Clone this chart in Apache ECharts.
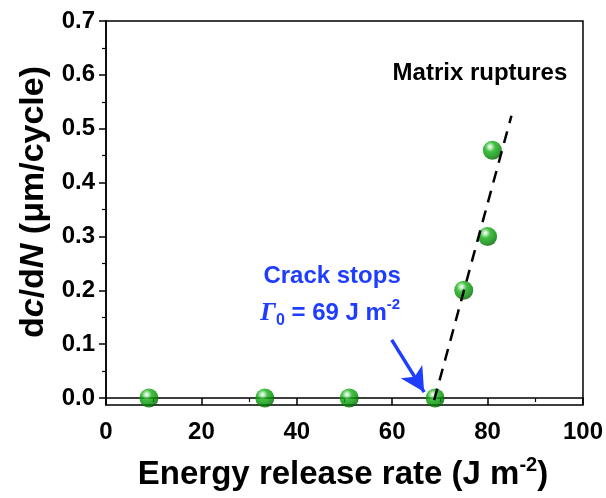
<!DOCTYPE html>
<html><head><meta charset="utf-8">
<script src="https://cdn.jsdelivr.net/npm/echarts@6/dist/echarts.min.js"></script>
<style>html,body{margin:0;padding:0;background:#fff}#c{width:606px;height:498px}</style>
</head><body><div id="c"></div>
<script>
// ---- data ----
const energy = [9, 33.3, 51, 69, 75, 80, 81];          // J m^-2
const rate   = [0, 0, 0, 0, 0.2, 0.3, 0.46];           // µm/cycle
const fitX   = [68.8, 85.0];                           // dashed trend line ends
const fitY   = [-0.004, 0.524];
const yMajor = [0, 0.1, 0.2, 0.3, 0.4, 0.5, 0.6, 0.7];
const yMinor = [0.05, 0.15, 0.25, 0.35, 0.45, 0.55, 0.65];
const arrowFrom = [59.9, 0.108];
const arrowTo   = [66.7, 0.011];
const labelMatrix = [78.4, 0.603];
const labelCrack  = [47.4, 0.225];
const labelGamma  = [47.0, 0.158];

const FONT = 'Liberation Sans, Arial, sans-serif';
const BLUE = '#1f3dff';
const chart = echarts.init(document.getElementById('c'));

const sphere = {
  type: 'radial', x: 0.38, y: 0.32, r: 0.75,
  colorStops: [
    {offset: 0, color: '#ffffff'},
    {offset: 0.12, color: '#b9ecb9'},
    {offset: 0.35, color: '#15b015'},
    {offset: 0.7, color: '#008c00'},
    {offset: 1, color: '#005200'}
  ]
};

chart.setOption({
  animation: false,
  grid: {left: 106, right: 22, top: 21, bottom: 93, show: true, borderColor: '#000', borderWidth: 1.5, backgroundColor: 'transparent'},
  xAxis: {
    type: 'value', min: 0, max: 100, interval: 20,
    axisLine: {show: true, lineStyle: {color: '#000', width: 1.5}},
    axisTick: {show: true, inside: false, length: 7, lineStyle: {color: '#000', width: 1.5}},
    minorTick: {show: true, splitNumber: 2, length: 4, lineStyle: {color: '#000', width: 1.2}},
    splitLine: {show: false},
    axisLabel: {fontFamily: FONT, fontSize: 24, fontWeight: 'bold', color: '#000', margin: 15}
  },
  yAxis: [{
    type: 'value', min: -0.013, max: 0.7,
    axisLine: {show: true, lineStyle: {color: '#000', width: 1.5}},
    axisTick: {show: true, inside: false, length: 7, customValues: yMajor, lineStyle: {color: '#000', width: 1.5}},
    splitLine: {show: false},
    axisLabel: {fontFamily: FONT, fontSize: 24, fontWeight: 'bold', color: '#000', margin: 11,
      customValues: yMajor, formatter: v => v.toFixed(1)}
  }, {
    type: 'value', min: -0.013, max: 0.7, position: 'left',
    axisLine: {show: false},
    axisTick: {show: true, inside: false, length: 4, customValues: yMinor, lineStyle: {color: '#000', width: 1.2}},
    splitLine: {show: false},
    axisLabel: {show: false}
  }],
  series: [{
    type: 'scatter', yAxisIndex: 0, z: 2,
    data: energy.map((x, i) => [x, rate[i]]),
    symbol: 'circle', symbolSize: 19,
    itemStyle: {color: sphere}
  }, {
    type: 'line', yAxisIndex: 0, z: 5,
    data: fitX.map((x, i) => [x, fitY[i]]),
    symbol: 'none',
    lineStyle: {color: '#000', width: 2.5, type: [12, 8.5]}
  }, {
    type: 'line', yAxisIndex: 0, z: 6, data: [], symbol: 'none',
    markLine: {
      silent: true, animation: false,
      symbol: ['none', 'arrow'], symbolSize: [19, 24],
      label: {show: false},
      lineStyle: {color: BLUE, width: 3.5, type: 'solid'},
      data: [[{coord: arrowFrom}, {coord: arrowTo}]]
    }
  }]
});

function px(p) { return chart.convertToPixel({gridIndex: 0}, p); }
const pM = px(labelMatrix), pC = px(labelCrack), pG = px(labelGamma);

chart.setOption({
  graphic: [
    {type: 'text', x: pM[0], y: pM[1], style: {text: 'Matrix ruptures', fill: '#000',
      font: 'bold 24px ' + FONT, align: 'center', verticalAlign: 'middle'}},
    {type: 'text', x: pC[0], y: pC[1], style: {text: 'Crack stops', fill: BLUE,
      font: 'bold 24px ' + FONT, align: 'center', verticalAlign: 'middle'}},
    {type: 'text', x: pG[0], y: pG[1], style: {
      text: '{g|Γ}{sub|0}{t| = 69 J m}{sup|-2}', align: 'center', verticalAlign: 'middle',
      rich: {
        g: {fontFamily: 'Liberation Serif, serif', fontStyle: 'italic', fontWeight: 'bold', fontSize: 26, fill: BLUE, lineHeight: 32},
        sub: {fontFamily: FONT, fontWeight: 'bold', fontSize: 16, fill: BLUE, verticalAlign: 'bottom', lineHeight: 16},
        t: {fontFamily: FONT, fontWeight: 'bold', fontSize: 24, fill: BLUE, lineHeight: 32},
        sup: {fontFamily: FONT, fontWeight: 'bold', fontSize: 15, fill: BLUE, verticalAlign: 'top', lineHeight: 15}
      }}},
    {type: 'text', x: 343, y: 475, style: {
      text: '{t|Energy release rate (J m}{sup|-2}{t|)}', align: 'center', verticalAlign: 'middle',
      rich: {
        t: {fontFamily: FONT, fontWeight: 'bold', fontSize: 33, fill: '#000', lineHeight: 40},
        sup: {fontFamily: FONT, fontWeight: 'bold', fontSize: 20, fill: '#000', verticalAlign: 'top', lineHeight: 20}
      }}},
    {type: 'text', x: 34, y: 202, rotation: Math.PI / 2, style: {
      text: '{t|d}{i|c}{t|/d}{i|N}{t| (μm/cycle)}', align: 'center', verticalAlign: 'middle',
      rich: {
        t: {fontFamily: FONT, fontWeight: 'bold', fontSize: 34, fill: '#000'},
        i: {fontFamily: FONT, fontWeight: 'bold', fontStyle: 'italic', fontSize: 34, fill: '#000'}
      }}}
  ]
});
</script></body></html>
